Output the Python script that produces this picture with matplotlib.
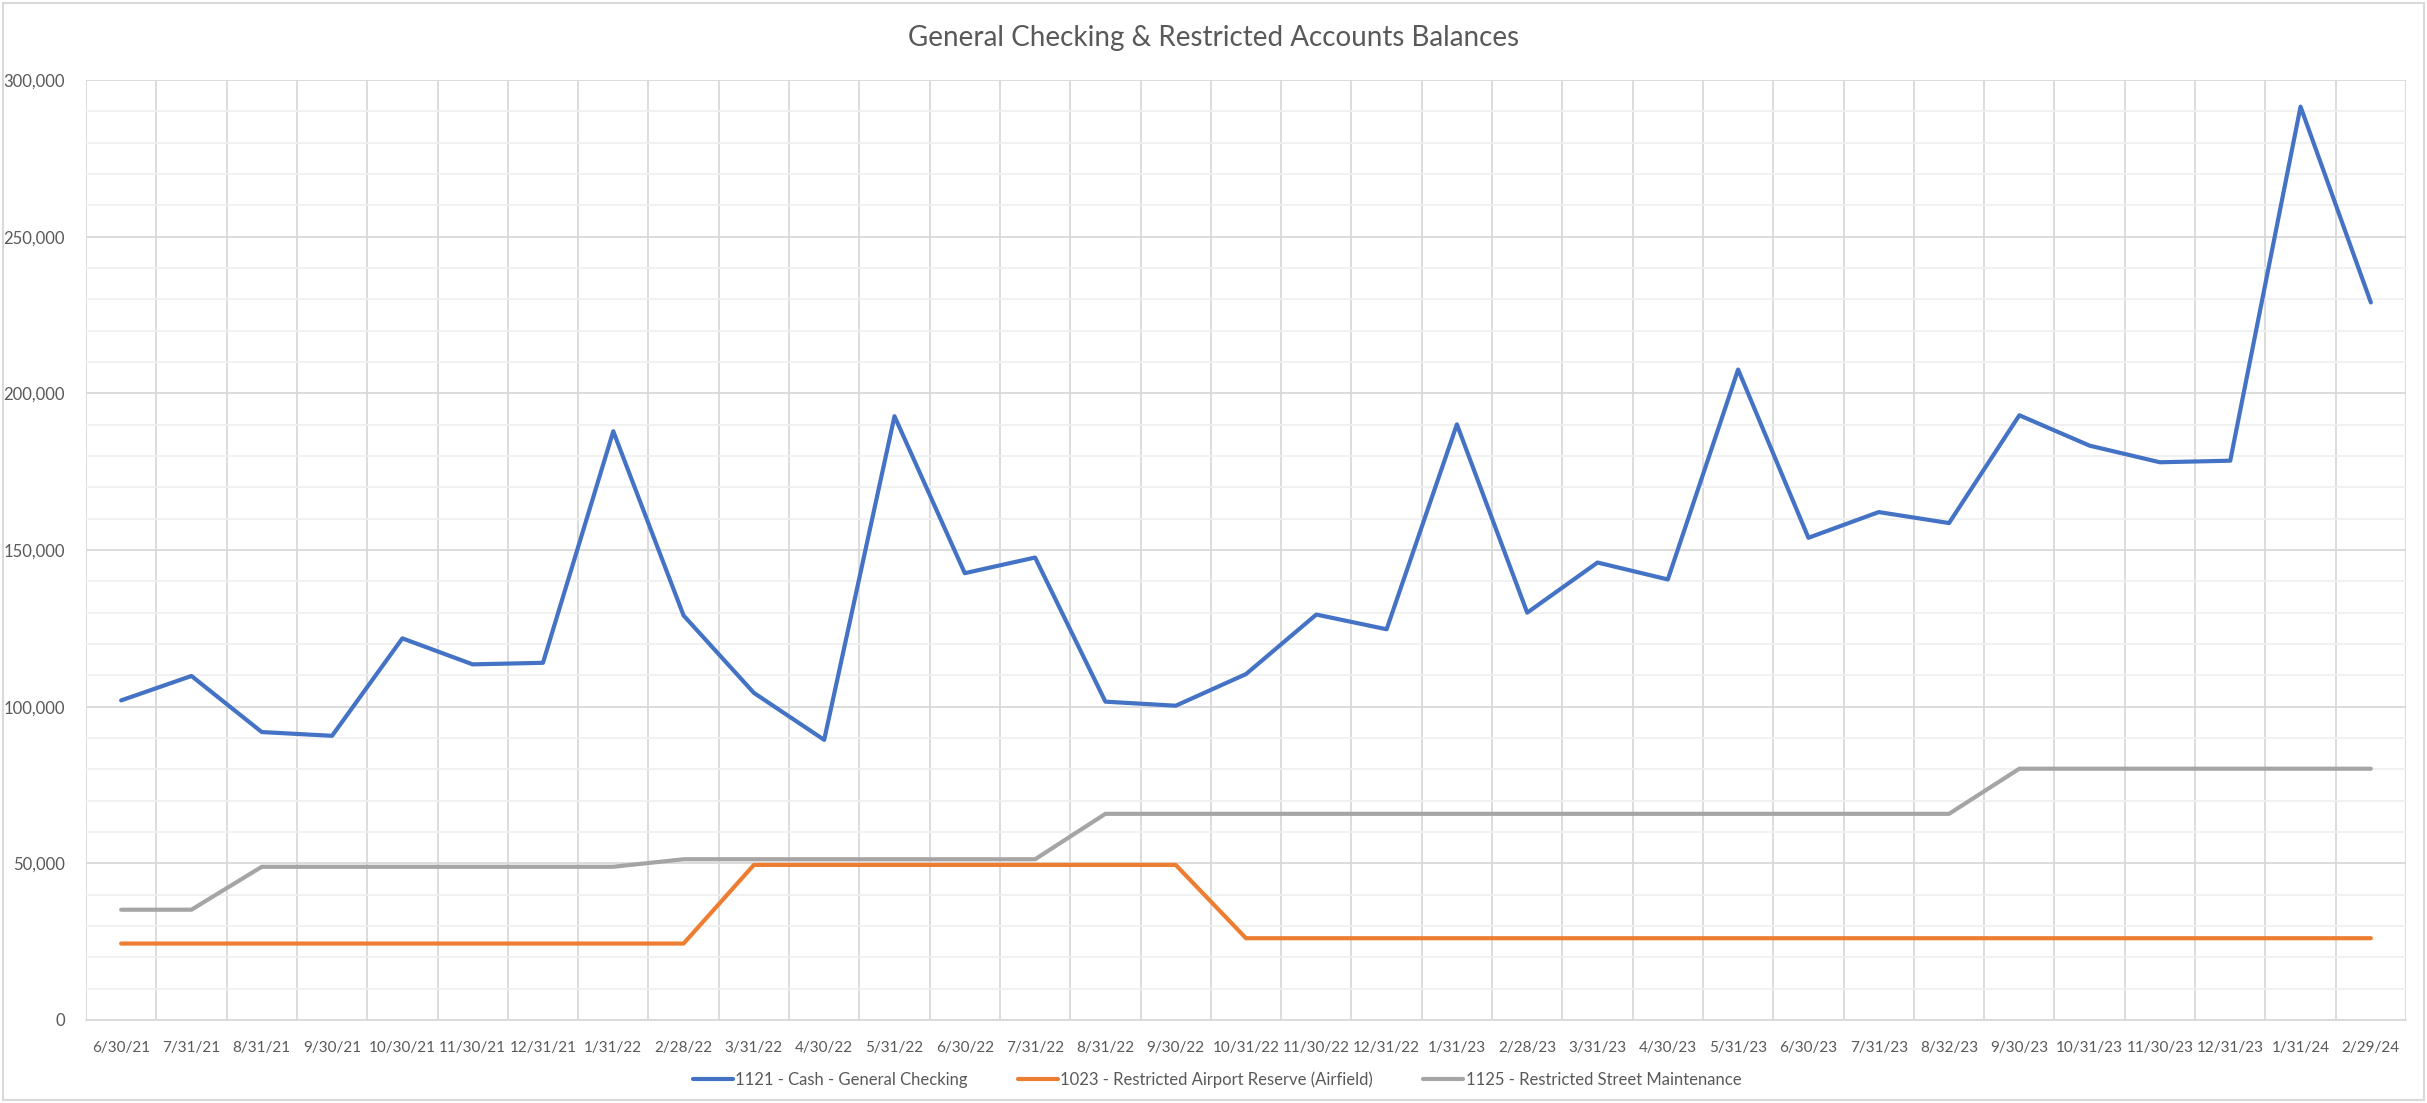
import numpy as np
import matplotlib
matplotlib.use("Agg")
import matplotlib.pyplot as plt
import matplotlib.ticker as mticker

# ---------------------------------------------------------
# Data
# ---------------------------------------------------------
dates = ["6/30/21", "7/31/21", "8/31/21", "9/30/21", "10/30/21", "11/30/21", "12/31/21",
         "1/31/22", "2/28/22", "3/31/22", "4/30/22", "5/31/22", "6/30/22", "7/31/22",
         "8/31/22", "9/30/22", "10/31/22", "11/30/22", "12/31/22", "1/31/23", "2/28/23",
         "3/31/23", "4/30/23", "5/31/23", "6/30/23", "7/31/23", "8/32/23", "9/30/23",
         "10/31/23", "11/30/23", "12/31/23", "1/31/24", "2/29/24"]

general_checking = [102000, 109800, 91900, 90700, 121800, 113500, 114000,
                    187900, 129100, 104400, 89400, 192700, 142600, 147600,
                    101600, 100300, 110400, 129400, 124700, 190100, 130000,
                    146000, 140600, 207600, 153900, 162100, 158600, 193000,
                    183300, 178000, 178500, 291500, 229000]

airport_reserve = [24400, 24400, 24400, 24400, 24400, 24400, 24400,
                   24400, 24400, 49500, 49500, 49500, 49500, 49500,
                   49500, 49500, 26100, 26100, 26100, 26100, 26100,
                   26100, 26100, 26100, 26100, 26100, 26100, 26100,
                   26100, 26100, 26100, 26100, 26100]

street_maint = [35200, 35200, 48900, 48900, 48900, 48900, 48900,
                48900, 51300, 51300, 51300, 51300, 51300, 51300,
                65800, 65800, 65800, 65800, 65800, 65800, 65800,
                65800, 65800, 65800, 65800, 65800, 65800, 80200,
                80200, 80200, 80200, 80200, 80200]

series_names = ["1121 - Cash - General Checking",
                "1023 - Restricted Airport Reserve (Airfield)",
                "1125 - Restricted Street Maintenance"]

BLUE = "#4472C4"
ORANGE = "#ED7D31"
GRAY = "#A5A5A5"
TEXT = "#595959"
GRID = "#D9D9D9"
MINOR = "#F0F0F0"

plt.rcParams["font.family"] = ["Lato", "DejaVu Sans"]

fig = plt.figure(figsize=(24.27, 11.03), dpi=100, facecolor="white")
ax = fig.add_axes([86 / 2427, 1 - 1020 / 1103, (2406 - 86) / 2427, (1020 - 80) / 1103])

x = np.arange(len(dates))
for vals, col, name in zip([general_checking, airport_reserve, street_maint],
                           [BLUE, ORANGE, GRAY], series_names):
    ax.plot(x, vals, color=col, linewidth=3, solid_capstyle="round",
            solid_joinstyle="round", label=name, zorder=3)

ax.set_xlim(-0.5, len(dates) - 0.5)
ax.set_ylim(0, 300000)
ax.set_xticks(x)
ax.set_xticklabels(dates)
ax.set_xticks(np.arange(-0.5, len(dates)), minor=True)
ax.yaxis.set_major_locator(mticker.MultipleLocator(50000))
ax.yaxis.set_minor_locator(mticker.MultipleLocator(10000))
ax.yaxis.set_major_formatter(mticker.FuncFormatter(lambda v, _: f"{v:,.0f}"))

ax.grid(which="minor", axis="y", color=MINOR, linewidth=1.3, zorder=0)
ax.grid(which="major", axis="y", color=GRID, linewidth=1.3, zorder=1)
ax.grid(which="minor", axis="x", color=GRID, linewidth=1.3, zorder=1)
ax.set_axisbelow(True)

ax.tick_params(which="both", length=0)
ax.tick_params(axis="y", pad=15, labelsize=12, labelcolor=TEXT)
ax.tick_params(axis="x", pad=15, labelsize=11, labelcolor=TEXT)
for s in ["top", "right", "left"]:
    ax.spines[s].set_visible(False)
ax.spines["bottom"].set_color(GRID)
ax.spines["bottom"].set_linewidth(1.3)

fig.text(0.5, 1 - 38 / 1103, "General Checking & Restricted Accounts Balances",
         ha="center", va="center", fontsize=20, color=TEXT)

fig.legend(loc="center", bbox_to_anchor=(1217 / 2427, 1 - 1080 / 1103), ncol=3,
           frameon=False, fontsize=12, handlelength=2.4, handletextpad=0.15,
           columnspacing=3.0, labelcolor=TEXT)

# outer chart border
fig.add_artist(plt.Rectangle((3 / 2427, 3 / 1103), 1 - 6 / 2427, 1 - 6 / 1103,
                             transform=fig.transFigure, fill=False,
                             edgecolor=GRID, linewidth=1.5))

plt.savefig("out.png", dpi=100, facecolor="white")
